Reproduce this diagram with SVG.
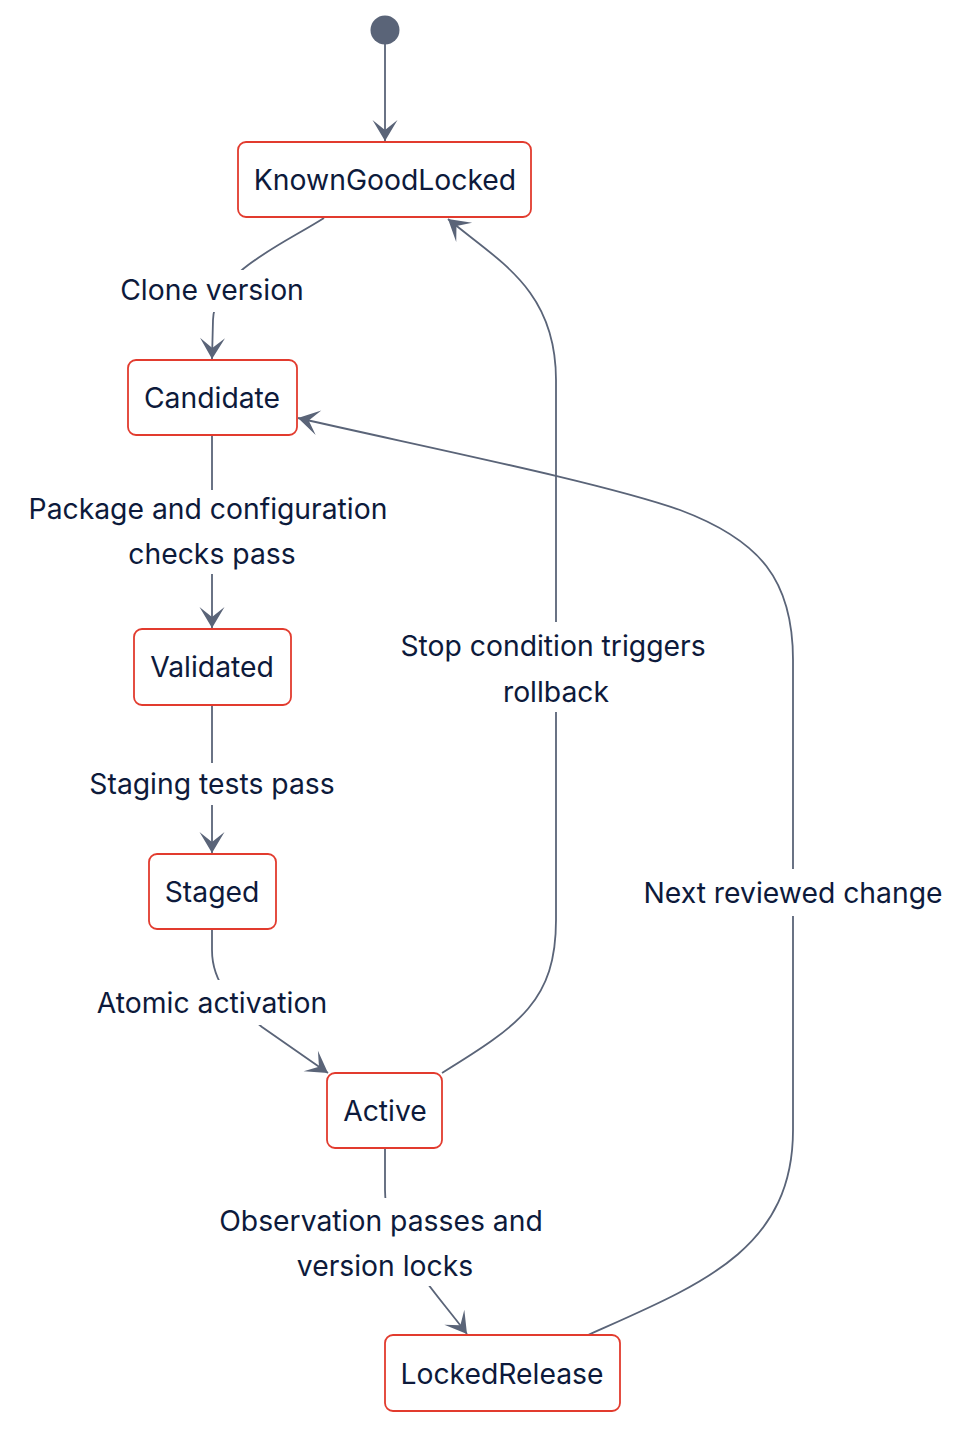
<svg xmlns="http://www.w3.org/2000/svg" width="974" height="1450" viewBox="0 0 974 1450">
<style>
.node rect{fill:#fff;stroke:#e23b2e;stroke-width:1.8}
.t{font-family:Inter,"Noto Sans",sans-serif;font-size:28.3px;fill:#0d1a3b;text-anchor:middle;dominant-baseline:central}
.e{fill:none;stroke:#5a6478;stroke-width:1.8}
.lb{fill:#fff}
</style>
<defs>
<marker id="ah" markerUnits="userSpaceOnUse" markerWidth="30" markerHeight="30" refX="22" refY="13" orient="auto" viewBox="0 0 30 26">
<path d="M22,13 L1,0.5 L11,13 L1,25.5 Z" fill="#5a6478"/>
</marker>
</defs>
<rect width="974" height="1450" fill="#fff"/>
<g id="edges">
<path class="e" d="M385,44 L385,141" marker-end="url(#ah)"/>
<path class="e" d="M324,218 C280,246 215,272 213,320 L212,359" marker-end="url(#ah)"/>
<path class="e" d="M212,436 L212,628" marker-end="url(#ah)"/>
<path class="e" d="M212,706 L212,853" marker-end="url(#ah)"/>
<path class="e" d="M212,930 L212,950 C212,985 235,1005 262,1027 L328,1073" marker-end="url(#ah)"/>
<path class="e" d="M385,1149 L385,1190 C385,1240 430,1285 467,1334" marker-end="url(#ah)"/>
<path class="e" d="M442,1073 C520,1025 556,1000 556,920 L556,380 C556,290 500,262 448,219" marker-end="url(#ah)"/>
<path class="e" d="M588,1335 C700,1285 793,1250 793,1130 L793,660 C793,580 760,540 680,510 C600,482 420,446 298,418" marker-end="url(#ah)"/>
</g>
<g id="edge-labels">
<rect class="lb" x="118" y="270" width="190" height="42"/>
<text class="t" x="212" y="290">Clone version</text>
<rect class="lb" x="26" y="490" width="366" height="84"/>
<text class="t" x="208" y="509">Package and configuration</text>
<text class="t" x="212" y="554">checks pass</text>
<rect class="lb" x="86" y="763" width="252" height="42"/>
<text class="t" x="212" y="784">Staging tests pass</text>
<rect class="lb" x="94" y="980" width="238" height="45"/>
<text class="t" x="212" y="1003">Atomic activation</text>
<rect class="lb" x="216" y="1198" width="330" height="88"/>
<text class="t" x="381" y="1221">Observation passes and</text>
<text class="t" x="385" y="1266">version locks</text>
<rect class="lb" x="396" y="622" width="314" height="90"/>
<text class="t" x="553" y="646">Stop condition triggers</text>
<text class="t" x="556" y="692">rollback</text>
<rect class="lb" x="640" y="869" width="306" height="47"/>
<text class="t" x="793" y="893">Next reviewed change</text>
</g>
<g id="start"><circle cx="385" cy="30" r="14.5" fill="#5a6478"/></g>
<g id="KnownGoodLocked" class="node"><rect x="238" y="142" width="293" height="75" rx="8"/><text class="t" x="385" y="180">KnownGoodLocked</text></g>
<g id="Candidate" class="node"><rect x="128" y="360" width="169" height="75" rx="8"/><text class="t" x="212" y="398">Candidate</text></g>
<g id="Validated" class="node"><rect x="134" y="629" width="157" height="76" rx="8"/><text class="t" x="212" y="667">Validated</text></g>
<g id="Staged" class="node"><rect x="149" y="854" width="127" height="75" rx="8"/><text class="t" x="212" y="892">Staged</text></g>
<g id="Active" class="node"><rect x="327" y="1073" width="115" height="75" rx="8"/><text class="t" x="385" y="1111">Active</text></g>
<g id="LockedRelease" class="node"><rect x="385" y="1335" width="235" height="76" rx="8"/><text class="t" x="502" y="1374">LockedRelease</text></g>
</svg>
